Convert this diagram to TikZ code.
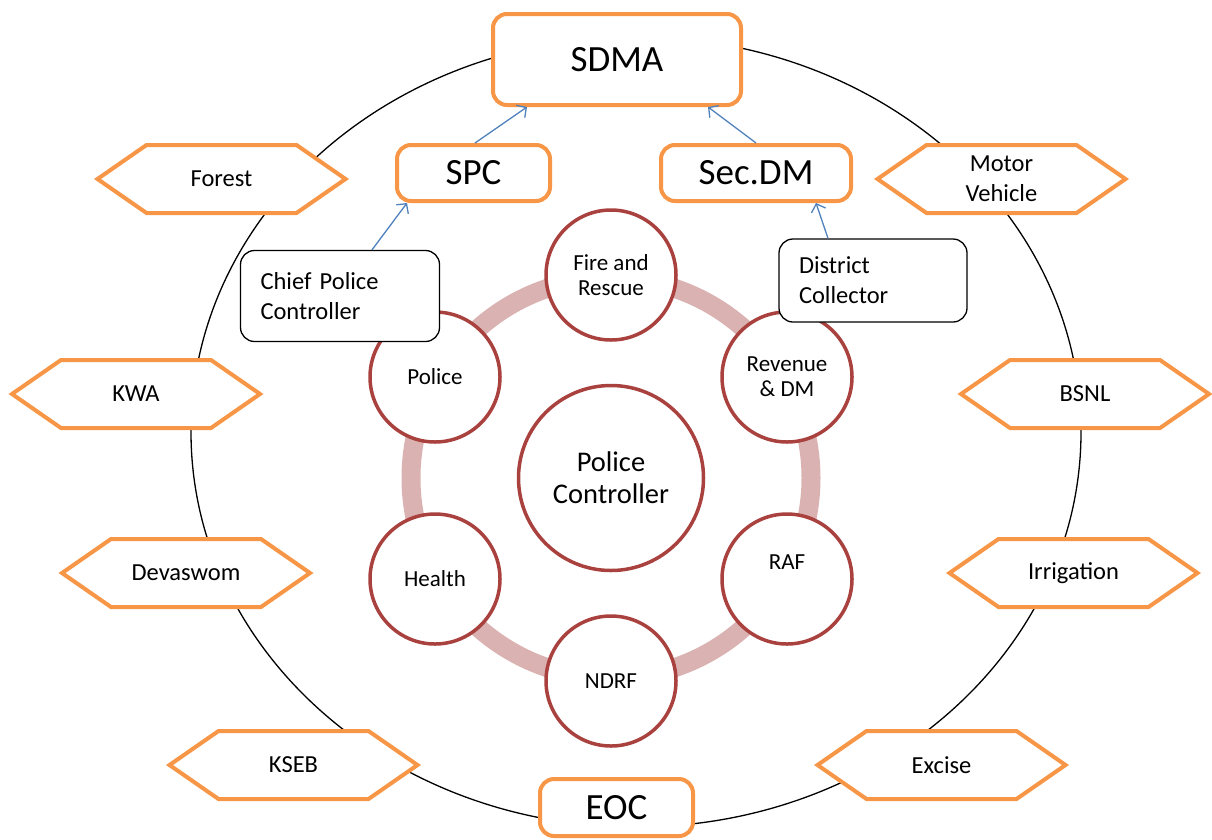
\documentclass[tikz,border=0pt]{standalone}
\usepackage{fontspec}
\setmainfont{Carlito}
\usetikzlibrary{arrows.meta,calc}
\definecolor{orng}{HTML}{F79646}
\definecolor{ringred}{HTML}{A9423F}
\definecolor{ringpink}{HTML}{DBB2B2}
\definecolor{arrblue}{HTML}{4F81BD}
\tikzset{
  obox/.style={draw=orng, line width=4pt, rounded corners=14pt, fill=white,
    font=\fontsize{37}{44}\selectfont, inner sep=0pt},
  hexlbl/.style={font=\fontsize{24.5}{30}\selectfont, align=center, inner sep=0pt},
  hexline/.style={draw=orng, line width=4pt, fill=white, line join=miter},
  circ/.style={circle, draw=ringred, line width=3.5pt, fill=white, minimum size=130pt,
    inner sep=0pt, align=center, font=\fontsize{23}{25}\selectfont},
  bbox/.style={draw=black, line width=1.3pt, rounded corners=14pt, fill=white, align=left,
    font=\fontsize{24.5}{30}\selectfont, inner xsep=20pt, inner ysep=0pt},
  arr/.style={draw=arrblue, line width=1.3pt, -{Straight Barb[length=7pt,width=15pt]}},
  outerring/.style={draw=black, line width=1.3pt},
  band/.style={draw=ringpink, line width=19pt}
}
\newcommand\hexnode[3]{%
  \path[hexline] ($(#2)+(-124,0)$) -- ($(#2)+(-75,-34)$) -- ($(#2)+(75,-34)$)
     -- ($(#2)+(124,0)$) -- ($(#2)+(75,34)$) -- ($(#2)+(-75,34)$) -- cycle;
  \node[hexlbl] (#1) at (#2) {#3};}
\begin{document}
\begin{tikzpicture}[x=1pt,y=-1pt]
\useasboundingbox (0,0) rectangle (1212,839);
% outer ellipse
\draw[outerring] (636,432) ellipse[x radius=445, y radius=395];
% hexagons
\hexnode{forest}{221.5,179}{Forest}
\hexnode{motor}{1001.5,179}{Motor\\Vehicle}
\hexnode{kwa}{136,394}{KWA}
\hexnode{bsnl}{1085,394}{BSNL}
\hexnode{devaswom}{186,573}{Devaswom}
\hexnode{irrigation}{1073.5,573}{Irrigation}
\hexnode{kseb}{293.5,765}{KSEB}
\hexnode{excise}{941.5,765}{Excise}
% orange boxes
\node[obox, minimum width=248pt, minimum height=91pt] (sdma) at (617,59.5) {SDMA};
\node[obox, minimum width=153pt, minimum height=56pt] (spc) at (473.5,173) {SPC};
\node[obox, minimum width=190pt, minimum height=56pt] (secdm) at (756,173) {Sec.DM};
\node[obox, minimum width=153pt, minimum height=57pt] (eoc) at (616.5,807.5) {EOC};
% ring band
\draw[band] (611,478) circle[radius=200];
% circles
\node[circ, minimum size=185pt, font=\fontsize{28.5}{32}\selectfont] (pc) at (611,478) {Police\\Controller};
\node[circ] (fire) at (611,275) {Fire and\\Rescue};
\node[circ] (police) at (435,377) {Police};
\node[circ] (revenue) at (787,377) {Revenue\\\&~DM};
\node[circ, text height=16pt, text depth=35pt] (raf) at (787,579) {RAF};
\node[circ] (health) at (435,579) {Health};
\node[circ] (ndrf) at (611,681) {NDRF};
% black boxes
\node[bbox, text width=159pt, minimum height=91pt] (chief) at (340,296) {Chief Police\\Controller};
\node[bbox, text width=148pt, minimum height=83pt] (dist) at (873,280.5) {District\\Collector};
% arrows
\draw[arr] ([xshift=1.5pt]spc.north) -- ([xshift=-90pt]sdma.south);
\draw[arr] (secdm.north) -- ([xshift=91pt]sdma.south);
\draw[arr] ([xshift=32pt]chief.north) -- ([xshift=-66.5pt]spc.south);
\draw[arr] ([xshift=-45pt]dist.north) -- ([xshift=60pt]secdm.south);
\end{tikzpicture}
\end{document}
